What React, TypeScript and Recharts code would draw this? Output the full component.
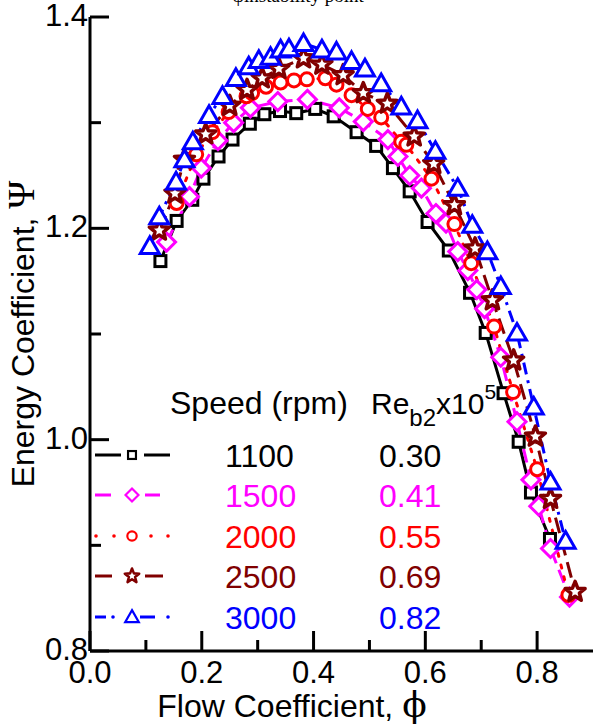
import React from "react";
import { LineChart, Line, XAxis, YAxis, Customized } from "recharts";

// flow coefficient (phi) and energy coefficient (psi) per speed
const phi1100 = [0.126, 0.155, 0.183, 0.203, 0.23, 0.255, 0.286, 0.312, 0.34, 0.369, 0.403, 0.436, 0.477, 0.512, 0.542, 0.572, 0.604, 0.642, 0.68, 0.708, 0.74, 0.767, 0.789, 0.823];
const psi1100 = [1.169, 1.207, 1.227, 1.247, 1.268, 1.284, 1.299, 1.308, 1.311, 1.309, 1.313, 1.306, 1.291, 1.278, 1.257, 1.235, 1.206, 1.179, 1.139, 1.101, 1.044, 0.998, 0.95, 0.906];

const phi1500 = [0.137, 0.178, 0.199, 0.229, 0.257, 0.287, 0.336, 0.389, 0.446, 0.489, 0.533, 0.551, 0.572, 0.593, 0.619, 0.637, 0.658, 0.676, 0.692, 0.706, 0.735, 0.764, 0.789, 0.803, 0.824, 0.858];
const psi1500 = [1.187, 1.23, 1.257, 1.283, 1.3, 1.314, 1.32, 1.322, 1.314, 1.301, 1.284, 1.268, 1.25, 1.238, 1.214, 1.205, 1.178, 1.16, 1.142, 1.124, 1.078, 1.017, 0.962, 0.937, 0.897, 0.851];

const phi2000 = [0.155, 0.19, 0.219, 0.248, 0.28, 0.29, 0.315, 0.341, 0.365, 0.388, 0.421, 0.441, 0.468, 0.497, 0.521, 0.557, 0.566, 0.611, 0.652, 0.682, 0.723, 0.757, 0.8, 0.856];
const psi2000 = [1.224, 1.27, 1.291, 1.31, 1.325, 1.328, 1.334, 1.338, 1.34, 1.341, 1.342, 1.336, 1.326, 1.313, 1.305, 1.282, 1.279, 1.247, 1.204, 1.167, 1.107, 1.045, 0.972, 0.853];

const phi2500 = [0.124, 0.152, 0.169, 0.207, 0.25, 0.281, 0.308, 0.338, 0.382, 0.415, 0.453, 0.489, 0.532, 0.58, 0.615, 0.652, 0.689, 0.72, 0.758, 0.797, 0.824, 0.868];
const psi2500 = [1.198, 1.233, 1.265, 1.289, 1.316, 1.331, 1.342, 1.351, 1.361, 1.355, 1.345, 1.328, 1.318, 1.287, 1.261, 1.222, 1.181, 1.132, 1.075, 1.003, 0.944, 0.856];

const phi3000 = [0.107, 0.124, 0.154, 0.169, 0.184, 0.213, 0.237, 0.261, 0.284, 0.302, 0.323, 0.341, 0.356, 0.382, 0.415, 0.441, 0.468, 0.492, 0.521, 0.557, 0.586, 0.618, 0.658, 0.684, 0.711, 0.735, 0.764, 0.794, 0.824, 0.851];
const psi3000 = [1.183, 1.211, 1.244, 1.265, 1.282, 1.307, 1.325, 1.342, 1.353, 1.359, 1.362, 1.369, 1.37, 1.375, 1.369, 1.367, 1.358, 1.351, 1.337, 1.315, 1.302, 1.273, 1.238, 1.203, 1.178, 1.145, 1.101, 1.031, 0.96, 0.904];

const speeds = ["1100", "1500", "2000", "2500", "3000"];
const reynolds = ["0.30", "0.41", "0.55", "0.69", "0.82"];

const xTicks = [0, 0.1, 0.2, 0.3, 0.4, 0.5, 0.6, 0.7, 0.8];
const xLabels = ["0.0", "", "0.2", "", "0.4", "", "0.6", "", "0.8"];
const yTicks = [0.8, 0.9, 1.0, 1.1, 1.2, 1.3, 1.4];
const yLabels = ["0.8", "", "1.0", "", "1.2", "", "1.4"];

const FONT = "Arial, 'Liberation Sans', sans-serif";
const SERIF = "'Times New Roman', 'Liberation Serif', serif";

const toRows = (xs: number[], ys: number[]) => xs.map((x, i) => ({ phi: x, psi: ys[i] }));

type MarkerKind = "square" | "diamond" | "circle" | "star" | "triangle";

const SERIES = [
  { name: "1100", rows: toRows(phi1100, psi1100), color: "#000000", dash: undefined, marker: "square" as MarkerKind },
  { name: "1500", rows: toRows(phi1500, psi1500), color: "#FF00FF", dash: "14 7", marker: "diamond" as MarkerKind },
  { name: "2000", rows: toRows(phi2000, psi2000), color: "#FF0000", dash: "3 9", marker: "circle" as MarkerKind },
  { name: "2500", rows: toRows(phi2500, psi2500), color: "#800000", dash: "16 7", marker: "star" as MarkerKind },
  { name: "3000", rows: toRows(phi3000, psi3000), color: "#0000FF", dash: "12 6 3 6", marker: "triangle" as MarkerKind },
];

function Marker({ kind, cx, cy, color, s = 1 }: { kind: MarkerKind; cx: number; cy: number; color: string; s?: number }) {
  const sw = 3 * s;
  if (kind === "square") {
    const h = 5.5 * s;
    return <rect x={cx - h} y={cy - h} width={2 * h} height={2 * h} fill="#fff" stroke={color} strokeWidth={sw} />;
  }
  if (kind === "diamond") {
    const r = 9 * s;
    return <polygon points={`${cx},${cy - r} ${cx + r},${cy} ${cx},${cy + r} ${cx - r},${cy}`} fill="#fff" stroke={color} strokeWidth={sw} />;
  }
  if (kind === "circle") {
    return <circle cx={cx} cy={cy} r={6.5 * s} fill="#fff" stroke={color} strokeWidth={sw} />;
  }
  if (kind === "triangle") {
    const r = 9.5 * s;
    return <polygon points={`${cx},${cy - r} ${cx + r},${cy + r * 0.75} ${cx - r},${cy + r * 0.75}`} fill="#fff" stroke={color} strokeWidth={sw} strokeLinejoin="miter" />;
  }
  const pts: string[] = [];
  for (let i = 0; i < 10; i++) {
    const r = (i % 2 === 0 ? 10.5 : 4.5) * s;
    const a = -Math.PI / 2 + (i * Math.PI) / 5;
    pts.push(`${cx + r * Math.cos(a)},${cy + r * Math.sin(a)}`);
  }
  return <polygon points={pts.join(" ")} fill="#fff" stroke={color} strokeWidth={3.5 * s} strokeLinejoin="round" />;
}

function XTick({ x, y, index }: any) {
  const major = index % 2 === 0;
  return (
    <g>
      <line x1={x} y1={y} x2={x} y2={y - (major ? 20 : 11)} stroke="#000" strokeWidth={3} />
      {major && (
        <text x={x} y={y + 32} textAnchor="middle" fontFamily={FONT} fontSize={31} fill="#000">
          {xLabels[index]}
        </text>
      )}
    </g>
  );
}

function YTick({ x, y, index }: any) {
  const major = index % 2 === 0;
  return (
    <g>
      <line x1={x} y1={y} x2={x + (major ? 19 : 11)} y2={y} stroke="#000" strokeWidth={3} />
      {major && (
        <text x={x - 2} y={y + 9} textAnchor="end" fontFamily={FONT} fontSize={31} fill="#000">
          {yLabels[index]}
        </text>
      )}
    </g>
  );
}

function LegendBlock() {
  const rowY = [455, 495, 536, 576, 617];
  const samples: Record<MarkerKind, (y: number, c: string) => React.ReactNode> = {
    square: (y, c) => (
      <>
        <line x1={95} y1={y} x2={121} y2={y} stroke={c} strokeWidth={3} />
        <line x1={144} y1={y} x2={170} y2={y} stroke={c} strokeWidth={3} />
      </>
    ),
    diamond: (y, c) => (
      <>
        <line x1={95} y1={y} x2={111} y2={y} stroke={c} strokeWidth={3} />
        <line x1={145} y1={y} x2={160} y2={y} stroke={c} strokeWidth={3} />
      </>
    ),
    circle: (y, c) => (
      <>
        {[96, 114, 151, 168].map((px) => (
          <circle key={px} cx={px} cy={y} r={1.8} fill={c} />
        ))}
      </>
    ),
    star: (y, c) => (
      <>
        <line x1={95} y1={y} x2={112} y2={y} stroke={c} strokeWidth={3} />
        <line x1={145} y1={y} x2={163} y2={y} stroke={c} strokeWidth={3} />
      </>
    ),
    triangle: (y, c) => (
      <>
        <line x1={95} y1={y} x2={106} y2={y} stroke={c} strokeWidth={3} />
        <circle cx={113} cy={y} r={1.8} fill={c} />
        <line x1={140} y1={y} x2={155} y2={y} stroke={c} strokeWidth={3} />
        <circle cx={168} cy={y} r={1.8} fill={c} />
      </>
    ),
  };
  return (
    <g fontFamily={FONT} fontSize={32}>
      <text x={170} y={414} fill="#000">Speed (rpm)</text>
      <text x={371} y={414} fill="#000" fontSize={30}>
        Re<tspan fontSize={24} dy={12}>b2</tspan>
        <tspan dy={-12}>x10</tspan>
        <tspan fontSize={21} dy={-15}>5</tspan>
      </text>
      {SERIES.map((s, i) => (
        <g key={s.name}>
          {samples[s.marker](rowY[i], s.color)}
          <Marker kind={s.marker} cx={132} cy={rowY[i]} color={s.color} s={0.72} />
          <text x={225} y={rowY[i] + 12} fill={s.color}>{speeds[i]}</text>
          <text x={379} y={rowY[i] + 12} fill={s.color}>{reynolds[i]}</text>
        </g>
      ))}
    </g>
  );
}

export default function App() {
  return (
    <div style={{ position: "absolute", left: 0, top: 0, width: 596, height: 727, background: "#fff" }}>
      <LineChart width={596} height={727} margin={{ top: 17, right: 3, bottom: 0, left: 0 }}>
        <text x={298} y={2} textAnchor="middle" fontFamily={SERIF} fontSize={19} fill="#000">
          ψinstability point
        </text>
        <XAxis
          dataKey="phi"
          type="number"
          domain={[0, 0.9]}
          ticks={xTicks}
          interval={0}
          height={76}
          tickSize={0}
          tickMargin={0}
          tickLine={false}
          axisLine={{ stroke: "#000", strokeWidth: 3 }}
          tick={<XTick />}
          allowDataOverflow
        />
        <XAxis xAxisId="top" orientation="top" type="number" domain={[0, 0.9]} height={0} tick={false} tickLine={false} axisLine={{ stroke: "#000", strokeWidth: 3 }} />
        <YAxis
          dataKey="psi"
          type="number"
          domain={[0.8, 1.4]}
          ticks={yTicks}
          interval={0}
          width={90}
          tickSize={0}
          tickMargin={0}
          tickLine={false}
          axisLine={{ stroke: "#000", strokeWidth: 3 }}
          tick={<YTick />}
          allowDataOverflow
        />
        <YAxis yAxisId="right" orientation="right" type="number" domain={[0.8, 1.4]} width={0} tick={false} tickLine={false} axisLine={{ stroke: "#000", strokeWidth: 3 }} />
        {SERIES.map((s) => (
          <Line
            key={s.name}
            data={s.rows}
            dataKey="psi"
            type="linear"
            stroke={s.color}
            strokeWidth={3}
            strokeDasharray={s.dash}
            strokeLinecap={s.marker === "circle" ? "round" : "butt"}
            isAnimationActive={false}
            dot={(p: any) => <Marker key={`${s.name}-${p.index}`} kind={s.marker} cx={p.cx} cy={p.cy} color={s.color} />}
            activeDot={false}
          />
        ))}
        <Customized component={LegendBlock} />
        <text x={0} y={0} transform="translate(34,334) rotate(-90)" textAnchor="middle" fontFamily={FONT} fontSize={32} fill="#000">
          Energy Coefficient, <tspan fontFamily={SERIF} fontSize={38}>Ψ</tspan>
        </text>
        <text x={292} y={717} textAnchor="middle" fontFamily={FONT} fontSize={32} fill="#000">
          Flow Coefficient, <tspan fontFamily="'DejaVu Serif', serif" fontSize={36}>ϕ</tspan>
        </text>
      </LineChart>
    </div>
  );
}
